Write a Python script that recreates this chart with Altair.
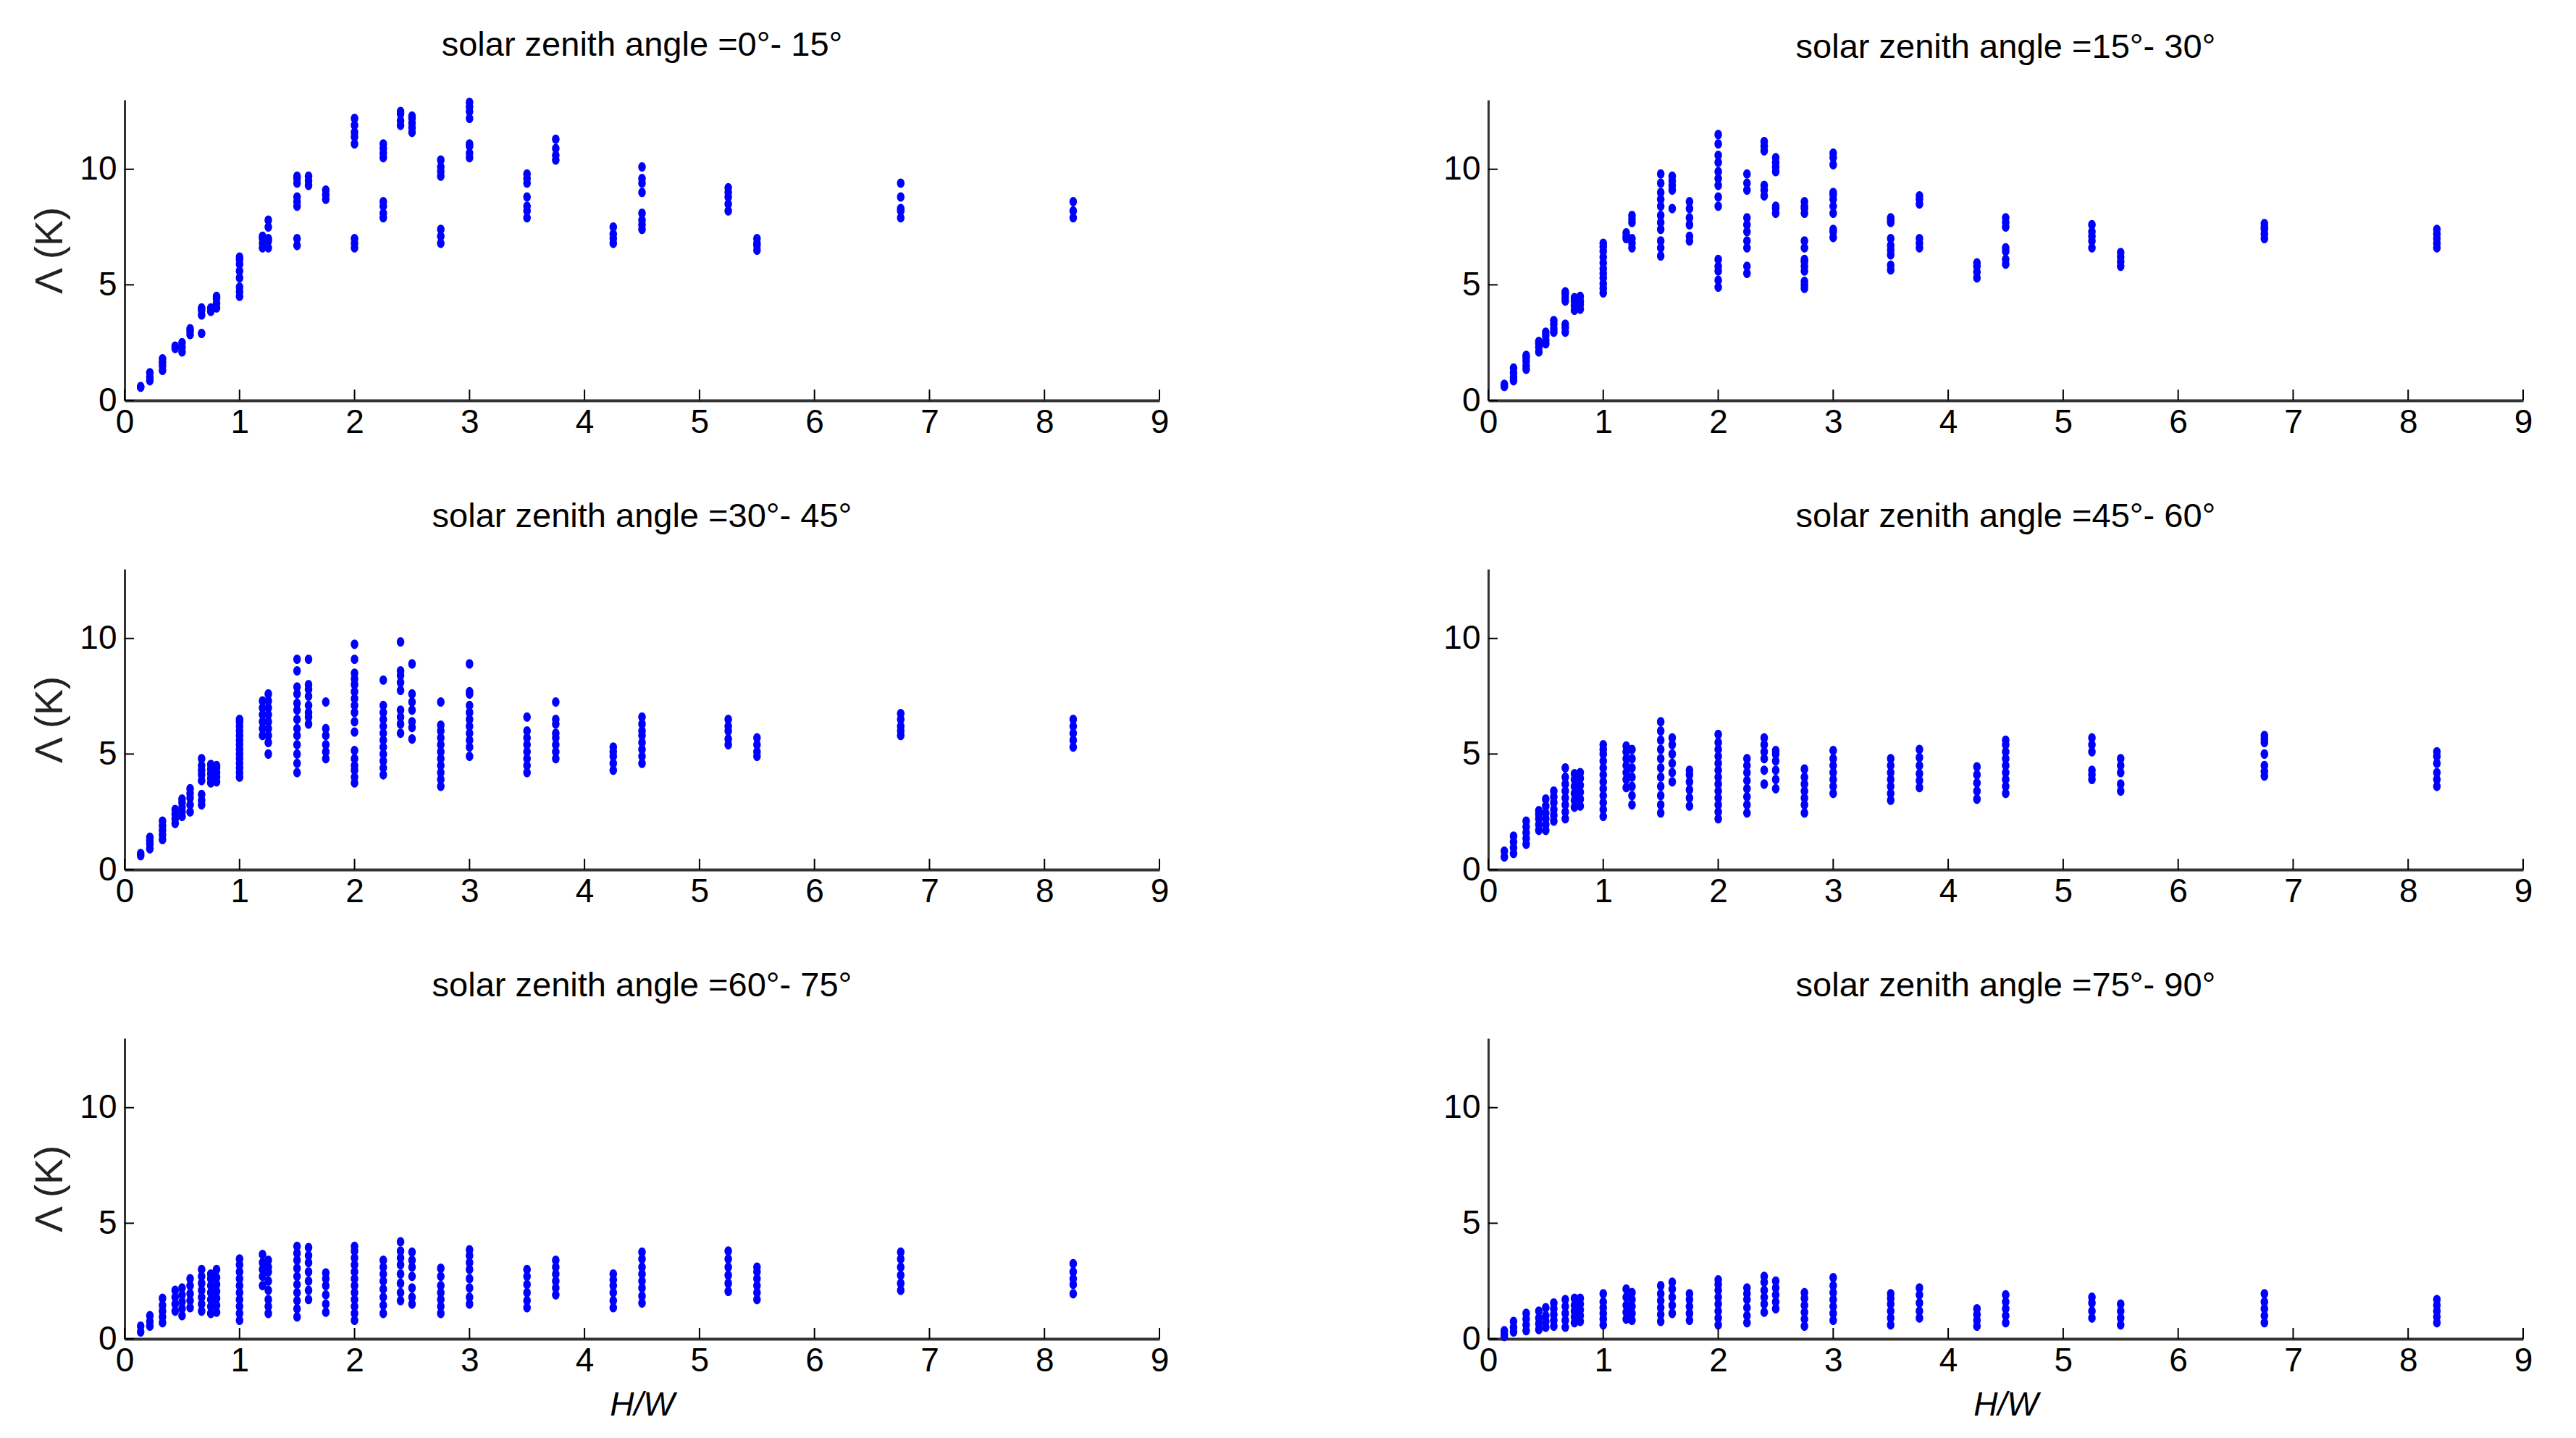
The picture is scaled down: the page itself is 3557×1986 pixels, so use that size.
import altair as alt
import pandas as pd

# H/W positions shared by all panels
HW = [0.14, 0.22, 0.33, 0.44, 0.5, 0.57, 0.67, 0.75, 0.8, 1.0, 1.2, 1.25, 1.5, 1.6, 1.75,
      2.0, 2.25, 2.4, 2.5, 2.75, 3.0, 3.5, 3.75, 4.25, 4.5, 5.25, 5.5, 6.75, 8.25]

TITLES = ["solar zenith angle =0°- 15°", "solar zenith angle =15°- 30°",
          "solar zenith angle =30°- 45°", "solar zenith angle =45°- 60°",
          "solar zenith angle =60°- 75°", "solar zenith angle =75°- 90°"]

SZA_0_15 = [
    [0.57, 0.6], [0.85, 1.0, 1.2], [1.3, 1.5, 1.65, 1.8], [2.25, 2.35], [2.1, 2.3, 2.5],
    [2.85, 3.0, 3.1], [2.9, 3.7, 3.9, 4.0], [3.85, 4.0], [4.0, 4.2, 4.4, 4.5],
    [4.5, 4.7, 4.9, 5.3, 5.6, 5.9, 6.1, 6.2], [6.6, 6.8, 7.0, 7.1], [6.6, 6.9, 7.0, 7.5, 7.8],
    [6.7, 7.0, 8.4, 8.6, 8.8, 9.4, 9.6, 9.7], [9.3, 9.5, 9.7], [8.7, 8.9, 9.1],
    [6.6, 6.8, 7.0, 11.1, 11.4, 11.6, 11.9, 12.2], [7.9, 8.1, 8.4, 8.6, 10.5, 10.7, 10.9, 11.1],
    [11.9, 12.1, 12.4, 12.5], [11.6, 11.8, 12.0, 12.2, 12.3],
    [6.8, 7.1, 7.4, 9.7, 9.9, 10.1, 10.4], [10.5, 10.7, 11.0, 11.1, 12.2, 12.5, 12.7, 12.9],
    [7.9, 8.2, 8.4, 8.8, 9.4, 9.6, 9.8], [10.4, 10.6, 10.9, 11.3], [6.8, 7.0, 7.2, 7.5],
    [7.4, 7.6, 7.8, 8.1, 9.0, 9.4, 9.6, 10.1], [8.2, 8.5, 8.8, 9.0, 9.2], [6.5, 6.7, 6.8, 7.0],
    [7.9, 8.2, 8.3, 8.8, 9.4], [7.9, 8.2, 8.6]]

SZA_15_30 = [
    [0.6, 0.7], [0.85, 1.0, 1.2, 1.4], [1.35, 1.5, 1.7, 1.85, 1.95], [2.1, 2.3, 2.45, 2.55],
    [2.45, 2.6, 2.8, 2.95], [2.95, 3.1, 3.3, 3.45], [2.95, 3.15, 3.3, 4.3, 4.45, 4.6, 4.7],
    [3.9, 4.1, 4.3, 4.45], [3.95, 4.15, 4.3, 4.5],
    [4.65, 4.85, 5.05, 5.3, 5.5, 5.7, 5.95, 6.2, 6.45, 6.65, 6.8], [7.0, 7.1, 7.25],
    [6.6, 6.8, 7.0, 7.7, 7.85, 8.0], [6.25, 6.6, 6.9, 7.4, 7.7, 8.0, 8.4, 8.7, 9.0, 9.4, 9.8],
    [8.3, 9.1, 9.3, 9.5, 9.7], [6.9, 7.1, 7.6, 7.9, 8.3, 8.6],
    [4.9, 5.2, 5.6, 5.8, 6.1, 8.4, 8.8, 9.3, 9.6, 9.9, 10.3, 10.6, 11.1, 11.5],
    [5.5, 5.8, 6.6, 6.9, 7.3, 7.6, 7.9, 9.1, 9.4, 9.8], [8.85, 9.1, 9.3, 10.8, 11.0, 11.2],
    [8.1, 8.3, 8.4, 9.9, 10.1, 10.3, 10.5],
    [4.85, 5.0, 5.15, 5.6, 5.8, 6.0, 6.1, 6.6, 6.9, 8.1, 8.3, 8.4, 8.6],
    [7.05, 7.3, 7.4, 8.1, 8.4, 8.7, 8.9, 9.0, 10.2, 10.5, 10.7],
    [5.65, 5.85, 6.3, 6.5, 6.7, 7.0, 7.7, 7.8, 7.9], [6.6, 6.8, 7.0, 8.5, 8.7, 8.85],
    [5.3, 5.55, 5.8, 5.95], [5.9, 6.1, 6.45, 6.6, 7.5, 7.7, 7.9], [6.6, 6.9, 7.1, 7.3, 7.6],
    [5.8, 6.0, 6.2, 6.4], [7.0, 7.2, 7.4, 7.5, 7.65], [6.6, 6.8, 7.0, 7.2, 7.4]]

SZA_30_45 = [
    [0.6, 0.7], [0.9, 1.1, 1.25, 1.4], [1.3, 1.5, 1.7, 1.9, 2.1], [2.0, 2.2, 2.4, 2.6],
    [2.3, 2.5, 2.7, 2.9, 3.05], [2.5, 2.8, 3.1, 3.3, 3.5], [2.8, 3.0, 3.25, 3.85, 4.1, 4.3, 4.5, 4.8],
    [3.75, 3.95, 4.15, 4.35, 4.55], [3.8, 4.0, 4.2, 4.4, 4.5],
    [4.0, 4.2, 4.4, 4.6, 4.8, 5.0, 5.2, 5.4, 5.6, 5.8, 6.0, 6.2, 6.4, 6.5],
    [5.8, 6.1, 6.4, 6.7, 7.0, 7.3], [5.0, 5.5, 5.8, 6.1, 6.4, 6.7, 7.0, 7.3, 7.6],
    [4.2, 4.6, 5.0, 5.4, 5.8, 6.1, 6.5, 6.9, 7.2, 7.6, 7.9, 8.6, 9.1],
    [6.3, 6.6, 6.8, 7.1, 7.5, 7.8, 8.0, 9.1], [4.8, 5.1, 5.4, 5.8, 6.1, 7.25],
    [3.75, 4.0, 4.3, 4.5, 4.8, 5.15, 5.95, 6.4, 6.8, 7.1, 7.4, 7.7, 8.0, 8.25, 8.5, 9.1, 9.75],
    [4.1, 4.4, 4.7, 5.0, 5.3, 5.6, 5.9, 6.2, 6.5, 6.8, 7.1, 8.2],
    [5.9, 6.3, 6.6, 6.9, 7.75, 8.1, 8.4, 8.6, 9.85], [5.65, 6.15, 6.4, 6.9, 7.25, 7.6, 8.9],
    [3.6, 3.9, 4.2, 4.5, 4.8, 5.1, 5.4, 5.7, 6.0, 6.25, 7.25],
    [4.9, 5.3, 5.6, 5.9, 6.2, 6.5, 6.8, 7.1, 7.6, 7.7, 8.9],
    [4.2, 4.5, 4.8, 5.1, 5.4, 5.7, 6.0, 6.6], [4.8, 5.1, 5.4, 5.7, 5.9, 6.3, 6.5, 7.25],
    [4.3, 4.6, 4.9, 5.1, 5.3], [4.6, 4.9, 5.2, 5.5, 5.8, 6.0, 6.3, 6.6],
    [5.4, 5.65, 6.0, 6.2, 6.5], [4.9, 5.1, 5.4, 5.7], [5.8, 6.0, 6.2, 6.5, 6.75],
    [5.3, 5.6, 5.9, 6.2, 6.5]]

SZA_45_60 = [
    [0.55, 0.8], [0.7, 0.95, 1.2, 1.45], [1.1, 1.35, 1.6, 1.85, 2.1], [1.7, 1.95, 2.2, 2.4, 2.55],
    [1.7, 1.95, 2.2, 2.45, 2.75, 3.05], [2.1, 2.35, 2.6, 2.9, 3.15, 3.4],
    [2.2, 2.5, 2.8, 3.1, 3.4, 3.7, 4.0, 4.4], [2.7, 3.0, 3.3, 3.6, 3.9, 4.15],
    [2.75, 3.05, 3.35, 3.65, 3.95, 4.2],
    [2.3, 2.6, 2.9, 3.2, 3.5, 3.8, 4.1, 4.4, 4.7, 5.0, 5.2, 5.4],
    [3.55, 3.9, 4.2, 4.5, 4.8, 5.1, 5.35], [2.8, 3.2, 3.6, 4.0, 4.4, 4.8, 5.2],
    [2.45, 2.8, 3.2, 3.6, 4.0, 4.4, 4.8, 5.2, 5.6, 6.0, 6.4], [3.8, 4.2, 4.6, 5.0, 5.4, 5.7],
    [2.75, 3.1, 3.45, 3.8, 4.1, 4.3],
    [2.2, 2.5, 2.8, 3.1, 3.4, 3.7, 4.0, 4.3, 4.6, 4.9, 5.2, 5.5, 5.85],
    [2.45, 2.8, 3.15, 3.5, 3.85, 4.2, 4.5, 4.8], [3.7, 4.3, 4.8, 5.1, 5.4, 5.7],
    [3.5, 3.9, 4.3, 4.7, 5.0, 5.15], [2.45, 2.8, 3.1, 3.4, 3.7, 4.0, 4.35],
    [3.3, 3.6, 3.9, 4.2, 4.5, 4.8, 5.15], [3.0, 3.3, 3.6, 3.9, 4.2, 4.5, 4.8],
    [3.55, 3.85, 4.15, 4.5, 4.85, 5.2], [3.05, 3.4, 3.75, 4.1, 4.45],
    [3.3, 3.6, 3.9, 4.2, 4.5, 4.8, 5.1, 5.4, 5.6], [3.9, 4.1, 4.3, 5.1, 5.4, 5.7],
    [3.4, 3.7, 4.2, 4.5, 4.8], [4.05, 4.25, 4.5, 5.0, 5.5, 5.65, 5.8],
    [3.6, 3.9, 4.2, 4.6, 4.9, 5.1]]

SZA_60_75 = [
    [0.3, 0.55], [0.55, 0.75, 1.0], [0.7, 0.95, 1.2, 1.45, 1.75], [1.2, 1.5, 1.8, 2.1],
    [1.0, 1.3, 1.6, 1.9, 2.2], [1.35, 1.65, 1.95, 2.3, 2.6], [1.2, 1.5, 1.8, 2.1, 2.4, 2.7, 3.0],
    [1.1, 1.4, 1.7, 2.0, 2.3, 2.6, 2.8], [1.15, 1.45, 1.75, 2.05, 2.35, 2.65, 3.0],
    [0.8, 1.1, 1.4, 1.7, 2.0, 2.3, 2.6, 2.9, 3.2, 3.45], [2.3, 2.7, 3.0, 3.3, 3.65],
    [1.1, 1.4, 1.7, 2.1, 2.5, 2.9, 3.1, 3.4], [0.95, 1.3, 1.65, 2.0, 2.35, 2.7, 3.05, 3.4, 3.7, 4.0],
    [1.7, 2.1, 2.5, 2.9, 3.3, 3.6, 3.95], [1.15, 1.5, 1.9, 2.3, 2.6, 2.85],
    [0.8, 1.1, 1.4, 1.7, 2.0, 2.3, 2.6, 2.9, 3.2, 3.5, 3.8, 4.0],
    [1.1, 1.45, 1.8, 2.15, 2.5, 2.8, 3.1, 3.4], [1.65, 2.0, 2.4, 2.8, 3.2, 3.5, 3.8, 4.2],
    [1.5, 1.8, 2.2, 2.7, 3.1, 3.4, 3.75], [1.1, 1.4, 1.7, 2.0, 2.3, 2.7, 3.05],
    [1.5, 1.8, 2.2, 2.6, 3.0, 3.3, 3.6, 3.85], [1.35, 1.65, 2.0, 2.35, 2.7, 3.0],
    [1.9, 2.2, 2.5, 2.8, 3.1, 3.4], [1.35, 1.65, 2.0, 2.3, 2.55, 2.8],
    [1.55, 1.85, 2.2, 2.5, 2.8, 3.1, 3.45, 3.75], [2.05, 2.4, 2.75, 3.1, 3.45, 3.8],
    [1.7, 2.0, 2.3, 2.6, 2.9, 3.1], [2.1, 2.4, 2.75, 3.1, 3.45, 3.75],
    [1.95, 2.35, 2.6, 2.9, 3.25]]

SZA_75_90 = [
    [0.1, 0.2, 0.35], [0.3, 0.5, 0.75], [0.35, 0.6, 0.85, 1.1], [0.4, 0.65, 0.9, 1.2],
    [0.5, 0.75, 1.0, 1.35], [0.55, 0.8, 1.05, 1.3, 1.55], [0.5, 0.8, 1.1, 1.4, 1.7],
    [0.7, 0.95, 1.2, 1.45, 1.75], [0.75, 1.0, 1.25, 1.5, 1.75],
    [0.6, 0.85, 1.1, 1.35, 1.6, 1.95], [0.85, 1.15, 1.45, 1.8, 2.15], [0.8, 1.1, 1.4, 1.7, 2.0],
    [0.75, 1.05, 1.35, 1.65, 1.95, 2.3], [1.1, 1.45, 1.8, 2.15, 2.45], [0.8, 1.1, 1.4, 1.7, 1.95],
    [0.6, 0.9, 1.2, 1.5, 1.8, 2.1, 2.35, 2.55], [0.7, 1.0, 1.35, 1.7, 1.95, 2.2],
    [1.15, 1.5, 1.8, 2.1, 2.45, 2.7], [1.3, 1.6, 1.9, 2.2, 2.5],
    [0.55, 0.85, 1.15, 1.45, 1.75, 2.0], [0.8, 1.1, 1.4, 1.7, 2.0, 2.3, 2.65],
    [0.6, 0.9, 1.2, 1.5, 1.75, 1.95], [0.9, 1.2, 1.55, 1.9, 2.2], [0.55, 0.8, 1.05, 1.3],
    [0.7, 1.0, 1.3, 1.6, 1.9], [0.9, 1.2, 1.55, 1.8], [0.6, 0.9, 1.2, 1.5],
    [0.7, 1.0, 1.3, 1.6, 1.95], [0.7, 0.95, 1.2, 1.45, 1.7]]

PANELS = [SZA_0_15, SZA_15_30, SZA_30_45, SZA_45_60, SZA_60_75, SZA_75_90]

X_TICKS = [0, 1, 2, 3, 4, 5, 6, 7, 8, 9]
Y_TICKS = [0, 5, 10]

W, H = 1429, 415
FONT = "Liberation Sans"
BLUE = "#0000ff"
AXIS_COLOR = "#333333"
xscale = alt.Scale(domain=[0, 9], nice=False, zero=False)
yscale = alt.Scale(domain=[0, 13], nice=False)


def panel(i):
    rows = []
    for hw, ys in zip(HW, PANELS[i]):
        for y in ys:
            rows.append({"hw": hw, "lam": y})
    df = pd.DataFrame(rows)
    left = (i % 2 == 0)
    bottom = (i >= 4)
    xaxis = alt.Axis(values=X_TICKS, format="d", ticks=False, grid=False, domainColor=AXIS_COLOR,
                     domainWidth=4, labelFontSize=46, labelFont=FONT, labelColor="#000",
                     labelPadding=8, labelFlush=False,
                     title="H/W" if bottom else None, titleFontSize=46, titleFont=FONT,
                     titleFontWeight="normal", titleFontStyle="italic", titlePadding=16)
    yaxis = alt.Axis(values=Y_TICKS, format="d", ticks=False, grid=False, domainColor=AXIS_COLOR,
                     domainWidth=3, labelFontSize=46, labelFont=FONT, labelColor="#000",
                     labelPadding=11, labelFlush=False,
                     title="Λ (K)" if left else None, titleFontSize=54, titleFont=FONT,
                     titleFontWeight="normal", titleColor="#222", titlePadding=13)
    pts = alt.Chart(df).mark_point(
        filled=True, opacity=1, color=BLUE, size=170, strokeWidth=0,
        shape="M0,-1A0.8,1 0 1,1 0,1A0.8,1 0 1,1 0,-1Z"
    ).encode(
        x=alt.X("hw:Q", scale=xscale, axis=xaxis),
        y=alt.Y("lam:Q", scale=yscale, axis=yaxis),
    )
    xt = alt.Chart(pd.DataFrame({"t": X_TICKS})).mark_rule(color="#000", strokeWidth=2).encode(
        x=alt.X("t:Q", scale=xscale), y=alt.value(H), y2=alt.value(H - 15))
    yt = alt.Chart(pd.DataFrame({"t": Y_TICKS})).mark_rule(color="#000", strokeWidth=2).encode(
        y=alt.Y("t:Q", scale=yscale), x=alt.value(0), x2=alt.value(13))
    return alt.layer(pts, xt, yt).properties(
        width=W, height=H,
        title=alt.TitleParams(TITLES[i], fontSize=47, font=FONT, fontWeight="normal",
                              color="#000", anchor="middle", offset=48),
    )


chart = alt.concat(*[panel(i) for i in range(6)], columns=2,
                   spacing={"row": 233, "column": 454}, bounds="flush").properties(
    padding={"left": 34, "top": 30, "right": 10, "bottom": 10}
).configure(background="white", view=alt.ViewConfig(stroke=None))

chart.save("out.html", embed_options={"renderer": "svg", "actions": False})
